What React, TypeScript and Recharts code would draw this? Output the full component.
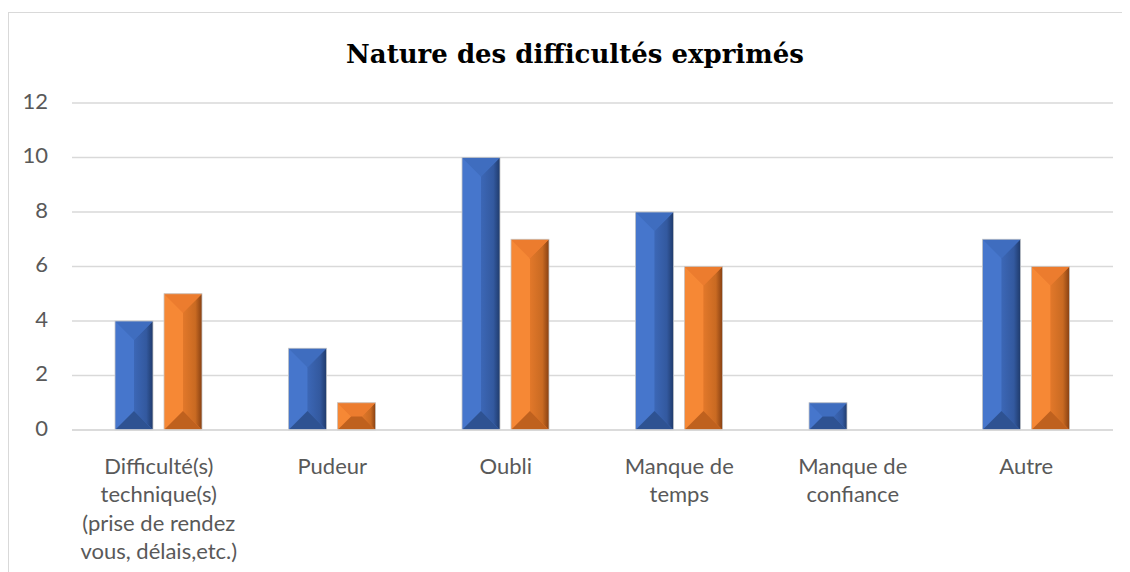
import React from "react";
import { BarChart, Bar, XAxis, YAxis, CartesianGrid } from "recharts";

const categories = [
  "Difficulté(s) technique(s) (prise de rendez vous, délais,etc.)",
  "Pudeur",
  "Oubli",
  "Manque de temps",
  "Manque de confiance",
  "Autre",
];
const categoryLines: string[][] = [
  ["Difficulté(s)", "technique(s)", "(prise de rendez", "vous, délais,etc.)"],
  ["Pudeur"],
  ["Oubli"],
  ["Manque de", "temps"],
  ["Manque de", "confiance"],
  ["Autre"],
];
const serie1 = [4, 3, 10, 8, 1, 7];
const serie2 = [5, 1, 7, 6, 0, 6];
const yTicks = [0, 2, 4, 6, 8, 10, 12];
const title = "Nature des difficultés exprimés";

const data = categories.map((c, i) => ({ cat: c, idx: i, s1: serie1[i], s2: serie2[i] }));

const FONT = "Lato, 'Liberation Sans', sans-serif";

const palettes: Record<string, { top: string; left: string; mid: string; rightA: string; rightB: string; bottom: string; id: string }> = {
  blue: { top: "#3F6DBF", left: "#4676CC", mid: "#4372C4", rightA: "#3C67B6", rightB: "#1F3A6B", bottom: "#2E5292", id: "gBlue" },
  orange: { top: "#EC7C2E", left: "#F68835", mid: "#ED7D31", rightA: "#E2782A", rightB: "#874012", bottom: "#BF611E", id: "gOrange" },
};

const BevelBar = (kind: string) => (props: any) => {
  const { x, y, width, height } = props;
  if (!height || height <= 0) return null;
  const p = palettes[kind];
  const d = Math.min(width / 2, height / 2, 19);
  const x2 = x + width;
  const y2 = y + height;
  const pts = (arr: number[][]) => arr.map((a) => a.join(",")).join(" ");
  return (
    <g>
      <rect x={x} y={y} width={width} height={height} fill={p.mid} />
      <polygon points={pts([[x, y], [x + d, y + d], [x + d, y2 - d], [x, y2]])} fill={p.left} />
      <polygon points={pts([[x2, y], [x2 - d, y + d], [x2 - d, y2 - d], [x2, y2]])} fill={`url(#${p.id})`} />
      <polygon points={pts([[x, y], [x2, y], [x2 - d, y + d], [x + d, y + d]])} fill={p.top} />
      <polygon points={pts([[x, y2], [x2, y2], [x2 - d, y2 - d], [x + d, y2 - d]])} fill={p.bottom} />
      <rect x={x} y={y} width={width} height={height} fill="none" stroke="#c9c9c9" strokeWidth={0.8} />
    </g>
  );
};

const XTick = (props: any) => {
  const { x, y, payload } = props;
  const lines = categoryLines[payload.index] || [String(payload.value)];
  return (
    <g>
      {lines.map((l, i) => (
        <text key={i} x={x} y={y + 30 + i * 28.6} textAnchor="middle" dominantBaseline="middle" fontFamily={FONT} fontSize={22} fill="#595959">
          {l}
        </text>
      ))}
    </g>
  );
};

const YTick = (props: any) => {
  const { x, y, payload } = props;
  return (
    <text x={x - 16} y={y} textAnchor="end" dominantBaseline="middle" fontFamily={FONT} fontSize={22} fill="#595959">
      {payload.value}
    </text>
  );
};

export default function App() {
  return (
    <div style={{ marginTop: 4, width: 1122, height: 560, borderLeft: "1px solid #d9d9d9", borderTop: "1px solid #d9d9d9", background: "#fff" }}>
      <BarChart
        width={1121}
        height={559}
        data={data}
        margin={{ top: 90, right: 17, left: 0, bottom: 12 }}
        barCategoryGap={43}
        barGap={11}
      >
        <defs>
          <linearGradient id="gBlue" x1="0" y1="0" x2="1" y2="0">
            <stop offset="0%" stopColor={palettes.blue.rightA} />
            <stop offset="65%" stopColor="#33599f" />
            <stop offset="100%" stopColor={palettes.blue.rightB} />
          </linearGradient>
          <linearGradient id="gOrange" x1="0" y1="0" x2="1" y2="0">
            <stop offset="0%" stopColor={palettes.orange.rightA} />
            <stop offset="65%" stopColor="#c96a22" />
            <stop offset="100%" stopColor={palettes.orange.rightB} />
          </linearGradient>
        </defs>
        <text x={566} y={50} textAnchor="middle" fontFamily="'DejaVu Serif', serif" fontWeight="bold" fontSize={26} fill="#000">
          {title}
        </text>
        <CartesianGrid vertical={false} stroke="#d9d9d9" strokeWidth={1.3} />
        <XAxis dataKey="cat" height={130} tick={<XTick />} tickLine={false} axisLine={{ stroke: "#d9d9d9", strokeWidth: 1.3 }} interval={0} />
        <YAxis width={63} domain={[0, 12]} ticks={yTicks} tick={<YTick />} tickLine={false} axisLine={false} />
        <Bar dataKey="s1" name="Série 1" shape={BevelBar("blue")} isAnimationActive={false} />
        <Bar dataKey="s2" name="Série 2" shape={BevelBar("orange")} isAnimationActive={false} />
      </BarChart>
    </div>
  );
}
